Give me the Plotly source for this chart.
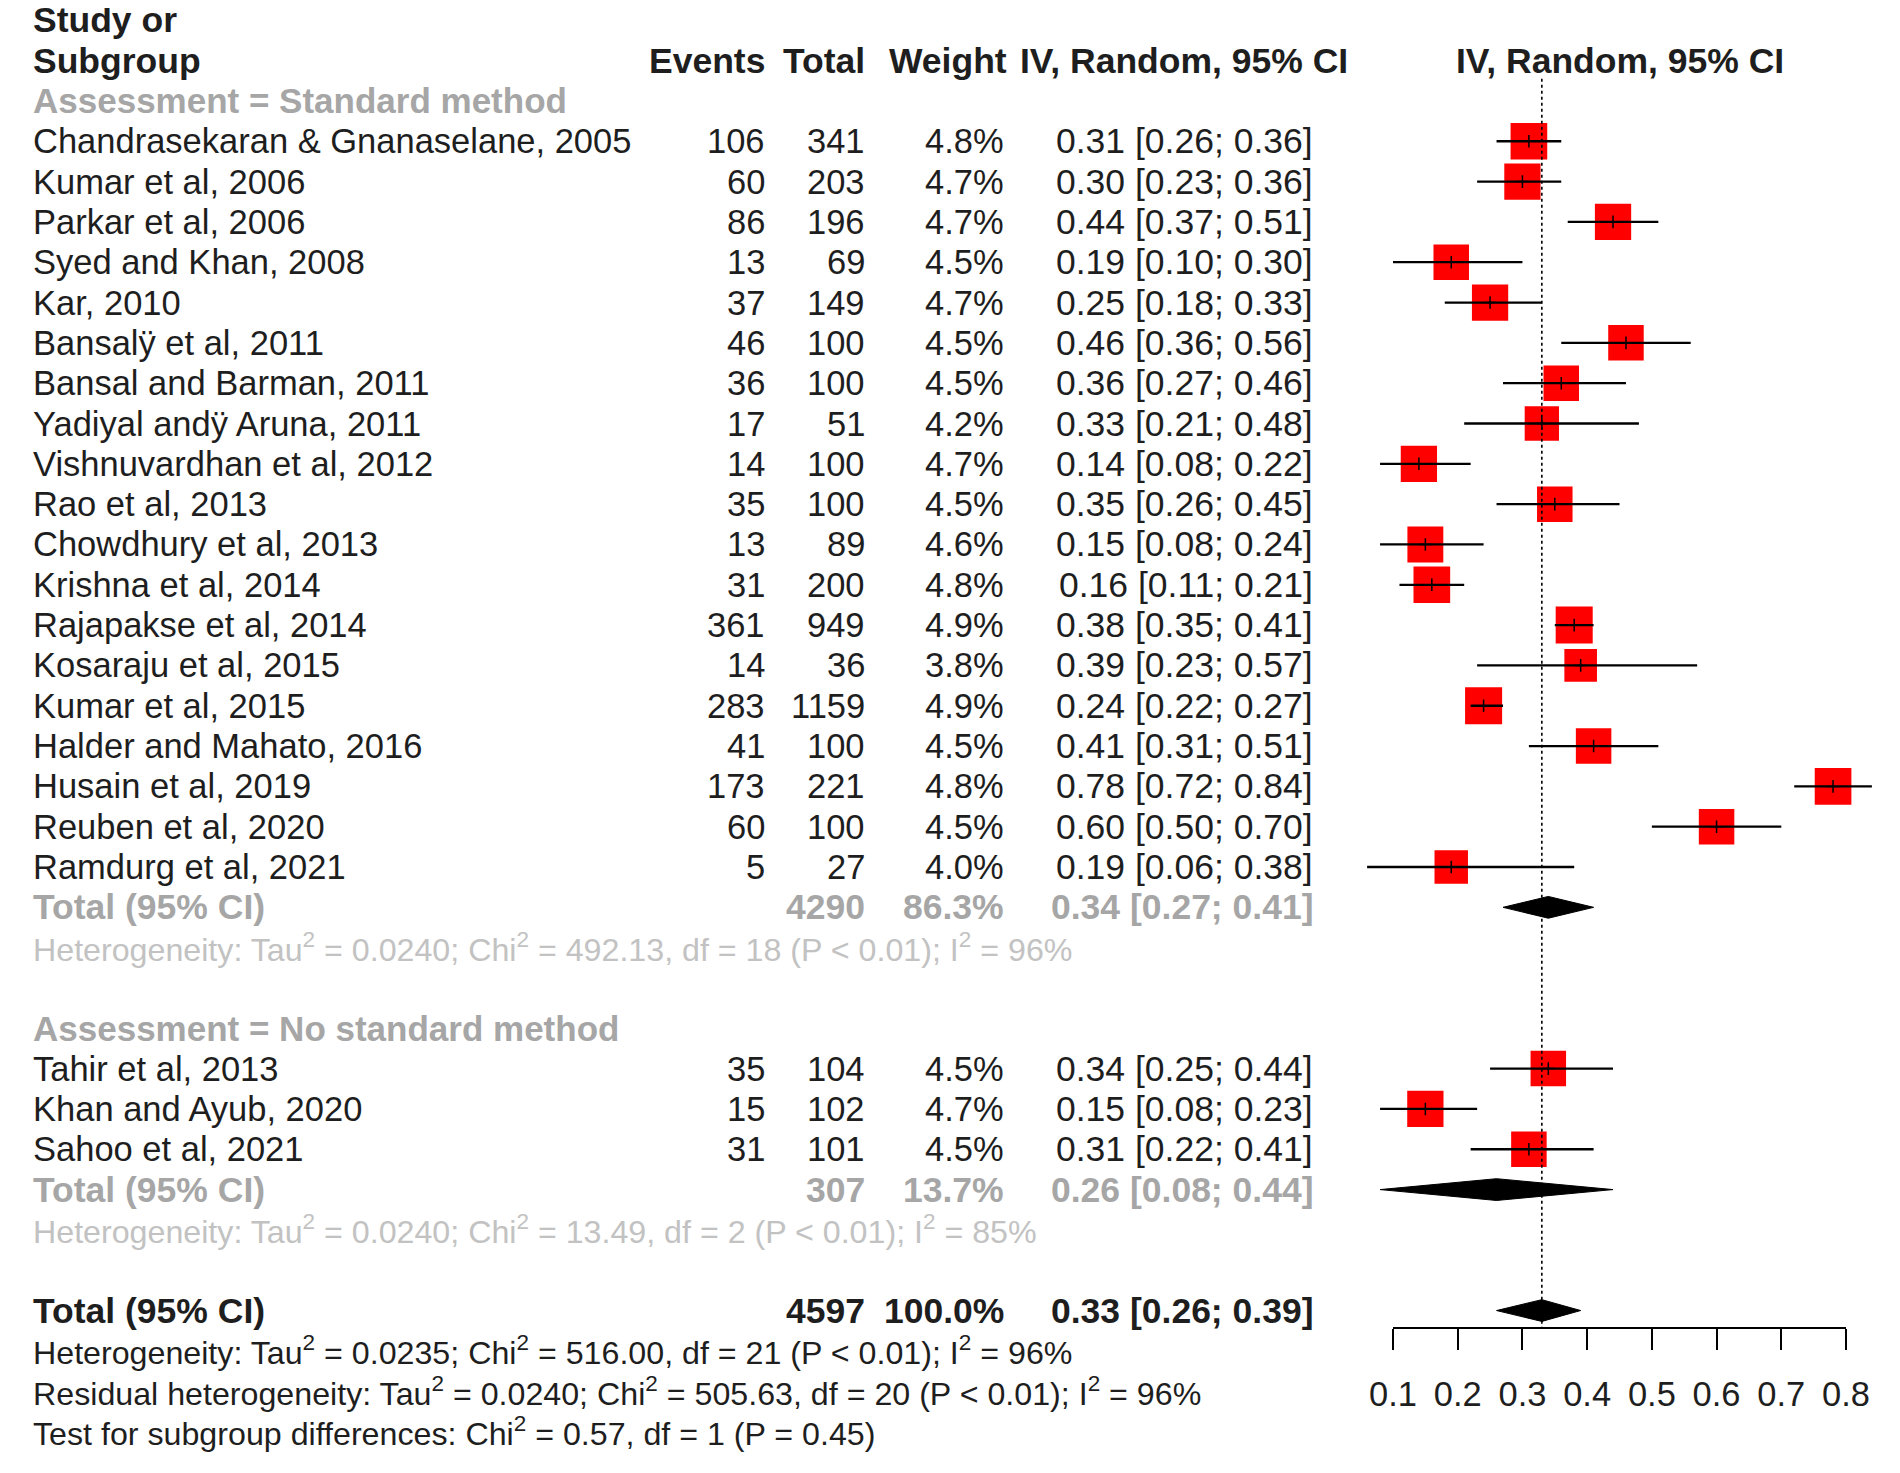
import plotly.graph_objects as go

# subgroup 1: Assessment = Standard method
std_studies = ["Chandrasekaran & Gnanaselane, 2005", "Kumar et al, 2006", "Parkar et al, 2006",
               "Syed and Khan, 2008", "Kar, 2010", "Bansalÿ et al, 2011", "Bansal and Barman, 2011",
               "Yadiyal andÿ Aruna, 2011", "Vishnuvardhan et al, 2012", "Rao et al, 2013",
               "Chowdhury et al, 2013", "Krishna et al, 2014", "Rajapakse et al, 2014",
               "Kosaraju et al, 2015", "Kumar et al, 2015", "Halder and Mahato, 2016",
               "Husain et al, 2019", "Reuben et al, 2020", "Ramdurg et al, 2021"]
std_events = [106, 60, 86, 13, 37, 46, 36, 17, 14, 35, 13, 31, 361, 14, 283, 41, 173, 60, 5]
std_total = [341, 203, 196, 69, 149, 100, 100, 51, 100, 100, 89, 200, 949, 36, 1159, 100, 221, 100, 27]
std_weight = [4.8, 4.7, 4.7, 4.5, 4.7, 4.5, 4.5, 4.2, 4.7, 4.5, 4.6, 4.8, 4.9, 3.8, 4.9, 4.5, 4.8, 4.5, 4.0]
std_est = [0.31, 0.30, 0.44, 0.19, 0.25, 0.46, 0.36, 0.33, 0.14, 0.35, 0.15, 0.16, 0.38, 0.39, 0.24, 0.41, 0.78, 0.60, 0.19]
std_lo = [0.26, 0.23, 0.37, 0.10, 0.18, 0.36, 0.27, 0.21, 0.08, 0.26, 0.08, 0.11, 0.35, 0.23, 0.22, 0.31, 0.72, 0.50, 0.06]
std_hi = [0.36, 0.36, 0.51, 0.30, 0.33, 0.56, 0.46, 0.48, 0.22, 0.45, 0.24, 0.21, 0.41, 0.57, 0.27, 0.51, 0.84, 0.70, 0.38]

# subgroup 2: Assessment = No standard method
non_studies = ["Tahir et al, 2013", "Khan and Ayub, 2020", "Sahoo et al, 2021"]
non_events = [35, 15, 31]
non_total = [104, 102, 101]
non_weight = [4.5, 4.7, 4.5]
non_est = [0.34, 0.15, 0.31]
non_lo = [0.25, 0.08, 0.22]
non_hi = [0.44, 0.23, 0.41]

# pooled results: total n, weight, estimate, lower, upper
std_pooled = [4290, 86.3, 0.34, 0.27, 0.41]
non_pooled = [307, 13.7, 0.26, 0.08, 0.44]
all_pooled = [4597, 100.0, 0.33, 0.26, 0.39]

std_het = "Heterogeneity: Tau<sup>2</sup> = 0.0240; Chi<sup>2</sup> = 492.13, df = 18 (P &lt; 0.01); I<sup>2</sup> = 96%"
non_het = "Heterogeneity: Tau<sup>2</sup> = 0.0240; Chi<sup>2</sup> = 13.49, df = 2 (P &lt; 0.01); I<sup>2</sup> = 85%"
all_het = "Heterogeneity: Tau<sup>2</sup> = 0.0235; Chi<sup>2</sup> = 516.00, df = 21 (P &lt; 0.01); I<sup>2</sup> = 96%"
resid_het = "Residual heterogeneity: Tau<sup>2</sup> = 0.0240; Chi<sup>2</sup> = 505.63, df = 20 (P &lt; 0.01); I<sup>2</sup> = 96%"
subgroup_test = "Test for subgroup differences: Chi<sup>2</sup> = 0.57, df = 1 (P = 0.45)"

ticks = [0.1, 0.2, 0.3, 0.4, 0.5, 0.6, 0.7, 0.8]

# the page adds an 8px body margin, so the figure is a little smaller than the window
OFF = 8
W, H = 1900 - OFF, 1473 - OFF
FONT = "Liberation Sans, Arial, sans-serif"
FS = 34.5        # plain rows
FS_CI = 35.5     # estimate [CI] column
FS_B = 35.5      # bold headers / totals
FS_LBL = 35      # subgroup labels
FS_NOTE = 32.2   # heterogeneity lines
DARK = "#1e1e1e"
GREY = "#a6a6a6"
LIGHT = "#c2c2c2"

# pixel layout (figure pixels)
row0_px, row_px = 20.3 - OFF, 40.32
tick_left_px, tick_right_px = 1393 - OFF, 1846 - OFF
axis_px = 1328 - OFF
name_x, events_x, total_x, weight_x, ci_col_x, cihead_x = 23, 759, 859, 998, 1307, 1010

px_per_unit = (tick_right_px - tick_left_px) / (ticks[-1] - ticks[0])
x_range = [ticks[0] - tick_left_px / px_per_unit, ticks[-1] + (W - tick_right_px) / px_per_unit]
y_range = [(H - row0_px) / row_px, -row0_px / row_px]

# row numbers
std_rows = list(range(3, 3 + len(std_studies)))
std_total_row = std_rows[-1] + 1
std_het_row = std_total_row + 1
non_label_row = std_het_row + 2
non_rows = list(range(non_label_row + 1, non_label_row + 1 + len(non_studies)))
non_total_row = non_rows[-1] + 1
non_het_row = non_total_row + 1
all_total_row = non_het_row + 2
axis_row = (axis_px - row0_px) / row_px

fig = go.Figure()

studies_est = std_est + non_est
studies_lo = std_lo + non_lo
studies_hi = std_hi + non_hi
studies_w = std_weight + non_weight
studies_rows = std_rows + non_rows

# squares
fig.add_trace(go.Scatter(
    x=studies_est, y=studies_rows, mode="markers",
    marker=dict(symbol="square", color="#ff0000", opacity=1,
                size=[35.5 * (w / 4.5) ** 0.5 for w in studies_w], line=dict(width=0)),
    showlegend=False, hoverinfo="skip"))

# confidence intervals
line_x, line_y = [], []
for lo, hi, r in zip(studies_lo, studies_hi, studies_rows):
    line_x += [lo, hi, None]
    line_y += [r, r, None]
fig.add_trace(go.Scatter(x=line_x, y=line_y, mode="lines", line=dict(color="black", width=2.3),
                         showlegend=False, hoverinfo="skip"))
fig.add_trace(go.Scatter(
    x=studies_est, y=studies_rows, mode="markers",
    marker=dict(symbol="cross-thin", size=9, line=dict(color="black", width=1.5)),
    showlegend=False, hoverinfo="skip"))

# diamonds
half_h = 0.27
for pooled, r in [(std_pooled, std_total_row), (non_pooled, non_total_row), (all_pooled, all_total_row)]:
    est, lo, hi = pooled[2], pooled[3], pooled[4]
    fig.add_trace(go.Scatter(
        x=[lo, est, hi, est, lo], y=[r, r - half_h, r, r + half_h, r],
        mode="lines", fill="toself", fillcolor="black", line=dict(color="black", width=1),
        showlegend=False, hoverinfo="skip"))

# dotted line at overall estimate
fig.add_trace(go.Scatter(x=[all_pooled[2], all_pooled[2]], y=[1.45, axis_row], mode="lines",
                         line=dict(color="black", width=1.6, dash="dot"),
                         showlegend=False, hoverinfo="skip"))

# invisible trace so the tick axis is drawn
fig.add_trace(go.Scatter(x=[ticks[0], ticks[-1]], y=[axis_row, axis_row], xaxis="x2", yaxis="y",
                         mode="markers", marker=dict(opacity=0), showlegend=False, hoverinfo="skip"))

annotations = []


def txt(x_px, r, s, anchor="left", color=DARK, bold=False, size=None):
    if size is None:
        size = FS_B if bold else FS
    if bold:
        s = "<b>" + s + "</b>"
    annotations.append(dict(x=x_px / W, y=r, xref="paper", yref="y", text=s, showarrow=False,
                            xanchor=anchor, yanchor="middle",
                            font=dict(family=FONT, size=size, color=color)))


def ci_text(est, lo, hi):
    return "%.2f [%.2f; %.2f]" % (est, lo, hi)


# headers
txt(name_x, 0, "Study or", bold=True)
txt(name_x, 1, "Subgroup", bold=True)
txt(events_x, 1, "Events", "right", bold=True)
txt(total_x, 1, "Total", "right", bold=True)
txt(weight_x + 3, 1, "Weight", "right", bold=True)
txt(cihead_x, 1, "IV, Random, 95% CI", bold=True)
annotations.append(dict(x=(ticks[0] + ticks[-1]) / 2, y=1, xref="x", yref="y",
                        text="<b>IV, Random, 95% CI</b>", showarrow=False, xanchor="center",
                        yanchor="middle", font=dict(family=FONT, size=FS_B, color=DARK)))

# subgroup 1
txt(name_x, 2, "Assessment = Standard method", color=GREY, bold=True, size=FS_LBL)
for i, r in enumerate(std_rows):
    txt(name_x, r, std_studies[i])
    txt(events_x, r, str(std_events[i]), "right")
    txt(total_x, r, str(std_total[i]), "right")
    txt(weight_x, r, "%.1f%%" % std_weight[i], "right")
    txt(ci_col_x, r, ci_text(std_est[i], std_lo[i], std_hi[i]), "right", size=FS_CI)
txt(name_x, std_total_row, "Total (95% CI)", color=GREY, bold=True)
txt(total_x, std_total_row, str(std_pooled[0]), "right", GREY, True)
txt(weight_x, std_total_row, "%.1f%%" % std_pooled[1], "right", GREY, True)
txt(ci_col_x, std_total_row, ci_text(*std_pooled[2:]), "right", GREY, True)
txt(name_x, std_het_row, std_het, color=LIGHT, size=FS_NOTE)

# subgroup 2
txt(name_x, non_label_row, "Assessment = No standard method", color=GREY, bold=True, size=FS_LBL)
for i, r in enumerate(non_rows):
    txt(name_x, r, non_studies[i])
    txt(events_x, r, str(non_events[i]), "right")
    txt(total_x, r, str(non_total[i]), "right")
    txt(weight_x, r, "%.1f%%" % non_weight[i], "right")
    txt(ci_col_x, r, ci_text(non_est[i], non_lo[i], non_hi[i]), "right", size=FS_CI)
txt(name_x, non_total_row, "Total (95% CI)", color=GREY, bold=True)
txt(total_x, non_total_row, str(non_pooled[0]), "right", GREY, True)
txt(weight_x, non_total_row, "%.1f%%" % non_pooled[1], "right", GREY, True)
txt(ci_col_x, non_total_row, ci_text(*non_pooled[2:]), "right", GREY, True)
txt(name_x, non_het_row, non_het, color=LIGHT, size=FS_NOTE)

# overall
txt(name_x, all_total_row, "Total (95% CI)", bold=True)
txt(total_x, all_total_row, str(all_pooled[0]), "right", bold=True)
txt(weight_x, all_total_row, "%.1f%%" % all_pooled[1], "right", bold=True)
txt(ci_col_x, all_total_row, ci_text(*all_pooled[2:]), "right", bold=True)
txt(name_x, all_total_row + 1, all_het, size=FS_NOTE)
txt(name_x, all_total_row + 2, resid_het, size=FS_NOTE)
txt(name_x, all_total_row + 3, subgroup_test, size=FS_NOTE)

fig.update_layout(
    width=W, height=H,
    margin=dict(l=0, r=0, t=0, b=0, autoexpand=False),
    paper_bgcolor="white", plot_bgcolor="rgba(0,0,0,0)",
    showlegend=False,
    annotations=annotations,
    xaxis=dict(range=x_range, visible=False, domain=[0, 1], automargin=False),
    yaxis=dict(range=y_range, visible=False, domain=[0, 1], automargin=False),
    xaxis2=dict(domain=[tick_left_px / W, tick_right_px / W], range=[ticks[0], ticks[-1]],
                anchor="free", position=1 - axis_px / H, side="bottom", automargin=False,
                showline=True, linecolor="black", linewidth=2,
                ticks="outside", ticklen=21, tickwidth=2, tickcolor="black",
                tickvals=ticks, ticktext=[str(t) for t in ticks], ticklabelstandoff=15,
                tickfont=dict(family=FONT, size=FS, color=DARK),
                showgrid=False, zeroline=False, fixedrange=True),
)

fig.write_html("out.html")
